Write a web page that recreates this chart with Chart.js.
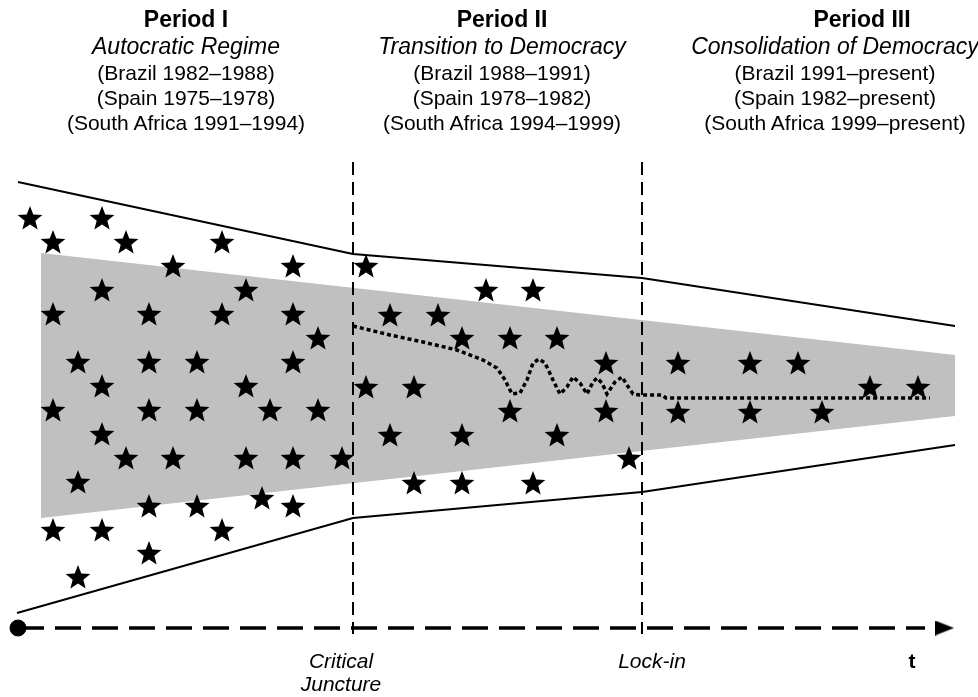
<!DOCTYPE html>
<html>
<head>
    <title>Critical Juncture and Lock-in</title>
    <script src="https://cdn.jsdelivr.net/npm/chart.js@4.4.1/dist/chart.umd.min.js"></script>
    <style>
        body {
            margin: 0;
            background: #ffffff;
            font-family: 'Liberation Sans', Arial, Helvetica, sans-serif;
        }
        .stage {
            position: relative;
            width: 978px;
            height: 697px;
        }
        canvas {
            position: absolute;
            left: 0;
            top: 0;
        }
        .period {
            position: absolute;
            top: 6px;
            width: 340px;
            text-align: center;
            color: #000;
        }
        .period .name {
            font-weight: bold;
            font-size: 23px;
            line-height: 27px;
        }
        .period .regime {
            font-style: italic;
            font-size: 23px;
            line-height: 27px;
        }
        .period .case {
            font-size: 21px;
            line-height: 25px;
        }
        .mark {
            position: absolute;
            top: 649px;
            width: 160px;
            text-align: center;
            font-style: italic;
            font-size: 21px;
            line-height: 23px;
        }
        .mark.t {
            font-style: normal;
            font-weight: bold;
        }
    </style>
</head>
<body>
    <div class="stage">
        <canvas id="chart" width="978" height="697"></canvas>

        <div class="period" style="left: 16px;">
            <div class="name">Period I</div>
            <div class="regime">Autocratic Regime</div>
            <div class="case">(Brazil 1982–1988)</div>
            <div class="case">(Spain 1975–1978)</div>
            <div class="case">(South Africa 1991–1994)</div>
        </div>
        <div class="period" style="left: 332px;">
            <div class="name">Period II</div>
            <div class="regime">Transition to Democracy</div>
            <div class="case">(Brazil 1988–1991)</div>
            <div class="case">(Spain 1978–1982)</div>
            <div class="case">(South Africa 1994–1999)</div>
        </div>
        <div class="period" style="left: 665px;">
            <div class="name" style="position: relative; left: 27px;">Period III</div>
            <div class="regime">Consolidation of Democracy</div>
            <div class="case">(Brazil 1991–present)</div>
            <div class="case">(Spain 1982–present)</div>
            <div class="case">(South Africa 1999–present)</div>
        </div>

        <div class="mark" style="left: 261px;">Critical<br>Juncture</div>
        <div class="mark" style="left: 572px;">Lock-in</div>
        <div class="mark t" style="left: 832px;">t</div>
    </div>

    <script>
        // stars (events / actors) in each period, in plot units
        const starsPeriod1 = [
            [3.0, 47.9], [10.2, 47.9], [5.3, 45.5], [12.6, 45.5], [22.2, 45.5],
            [17.3, 43.1], [29.3, 43.1], [10.2, 40.7], [24.6, 40.7],
            [5.3, 38.3], [14.9, 38.3], [22.2, 38.3], [29.3, 38.3], [31.8, 35.9],
            [7.8, 33.5], [14.9, 33.5], [19.7, 33.5], [29.3, 33.5],
            [10.2, 31.1], [24.6, 31.1],
            [5.3, 28.7], [14.9, 28.7], [19.7, 28.7], [27.0, 28.7], [31.8, 28.7],
            [10.2, 26.3], [12.6, 23.9], [17.3, 23.9], [24.6, 23.9], [29.3, 23.9], [34.2, 23.9],
            [7.8, 21.5], [14.9, 19.1], [19.7, 19.1], [26.2, 19.9], [29.3, 19.1],
            [5.3, 16.7], [10.2, 16.7], [22.2, 16.7], [14.9, 14.4], [7.8, 12.0]
        ];
        const starsPeriod2 = [
            [36.6, 43.1], [48.6, 40.7], [53.3, 40.7], [39.0, 38.2], [43.8, 38.2],
            [46.2, 35.9], [51.0, 35.9], [55.7, 35.9], [60.6, 33.4],
            [36.6, 31.0], [41.4, 31.0], [51.0, 28.6], [60.6, 28.6],
            [39.0, 26.2], [46.2, 26.2], [55.7, 26.2], [62.9, 23.9],
            [41.4, 21.4], [46.2, 21.4], [53.3, 21.4]
        ];
        const starsPeriod3 = [
            [67.8, 33.4], [75.0, 33.4], [79.8, 33.4], [87.0, 31.0], [91.8, 31.0],
            [67.8, 28.5], [75.0, 28.5], [82.2, 28.5]
        ];

        // outer bounds of the option space
        const upperBound = [[1.8, 51.5], [35.3, 44.3], [64.2, 41.9], [95.5, 37.1]];
        const lowerBound = [[1.7, 8.4], [35.3, 17.9], [64.2, 20.5], [95.5, 25.2]];

        // grey band of likely outcomes
        const bandTop = [[4.1, 44.4], [95.5, 34.2]];
        const bandBottom = [[4.1, 17.9], [95.5, 28.1]];

        // path of the regime after the critical juncture
        const path = [
            [35.3, 37.1], [39.0, 36.2], [42.3, 35.5], [45.7, 34.7], [48.3, 33.7],
            [49.7, 32.9], [50.5, 31.7], [51.2, 30.3], [52.0, 30.4], [52.7, 31.7],
            [53.3, 33.4], [53.9, 33.8], [54.5, 33.4], [55.3, 31.7], [56.0, 30.3],
            [56.7, 31.0], [57.3, 32.0], [58.0, 31.4], [58.7, 30.3], [59.3, 31.5],
            [59.7, 31.9], [60.2, 31.4], [60.7, 30.3], [61.5, 31.5], [62.2, 32.0],
            [62.7, 31.2], [63.3, 30.3], [64.0, 30.2], [66.2, 30.2], [66.6, 29.9],
            [93.0, 29.9]
        ];

        // time axis and the two turning points
        const criticalJuncture = 35.3;
        const lockIn = 64.2;
        const markerTop = 53.5;
        const markerBottom = 6.3;
        const timeAxisY = 6.9;
        const timeStart = 1.8;
        const timeEnd = 92.5;
        const arrowAt = 94.45;

        const toPoints = arr => arr.map(p => ({ x: p[0], y: p[1] }));

        // filled five-point star used as point style
        const makeStar = () => {
            const c = document.createElement('canvas');
            c.width = 30;
            c.height = 30;
            const g = c.getContext('2d');
            const R = 13, r = 5.6, cx = 15, cy = 16;
            g.beginPath();
            for (let i = 0; i < 10; i++) {
                const rad = i % 2 === 0 ? R : r;
                const a = -Math.PI / 2 + i * Math.PI / 5;
                const px = cx + Math.cos(a) * rad;
                const py = cy + Math.sin(a) * rad;
                if (i === 0) g.moveTo(px, py); else g.lineTo(px, py);
            }
            g.closePath();
            g.fillStyle = '#000';
            g.fill();
            return c;
        };

        const makeArrow = () => {
            const c = document.createElement('canvas');
            c.width = 19;
            c.height = 15;
            const g = c.getContext('2d');
            g.beginPath();
            g.moveTo(0, 0);
            g.lineTo(19, 7.5);
            g.lineTo(0, 15);
            g.closePath();
            g.fillStyle = '#000';
            g.fill();
            return c;
        };

        const star = makeStar();
        const arrow = makeArrow();

        const starSet = (label, arr) => ({
            label: label,
            data: toPoints(arr),
            pointStyle: star,
            pointRadius: 13,
            showLine: false,
            order: 0,
            clip: false
        });

        const lineSet = (label, arr, extra) => Object.assign({
            label: label,
            data: toPoints(arr),
            showLine: true,
            borderColor: '#000',
            borderWidth: 2,
            pointRadius: 0,
            tension: 0,
            fill: false,
            order: 2,
            clip: false
        }, extra || {});

        new Chart(document.getElementById('chart'), {
            type: 'scatter',
            data: {
                datasets: [
                    starSet('Period I', starsPeriod1),
                    starSet('Period II', starsPeriod2),
                    starSet('Period III', starsPeriod3),
                    lineSet('Path', path, { borderWidth: 3.5, borderDash: [4, 3], borderCapStyle: 'butt', order: 1 }),
                    lineSet('Upper bound', upperBound),
                    lineSet('Lower bound', lowerBound),
                    lineSet('Critical juncture', [[criticalJuncture, markerTop], [criticalJuncture, markerBottom]], { borderDash: [13, 7] }),
                    lineSet('Lock-in', [[lockIn, markerTop], [lockIn, markerBottom]], { borderDash: [13, 7] }),
                    lineSet('Time', [[timeStart, timeAxisY], [timeEnd, timeAxisY]], { borderWidth: 3.5, borderDash: [26, 11] }),
                    {
                        label: 'Origin',
                        data: toPoints([[timeStart, timeAxisY]]),
                        pointStyle: 'circle',
                        pointRadius: 8,
                        backgroundColor: '#000',
                        borderColor: '#000',
                        order: 1,
                        clip: false
                    },
                    {
                        label: 'Arrow',
                        data: toPoints([[arrowAt, timeAxisY]]),
                        pointStyle: arrow,
                        pointRadius: 10,
                        order: 1,
                        clip: false
                    },
                    lineSet('Band top', bandTop, { borderWidth: 0, fill: '+1', backgroundColor: '#c0c0c0', order: 5 }),
                    lineSet('Band bottom', bandBottom, { borderWidth: 0, order: 5 })
                ]
            },
            options: {
                responsive: false,
                animation: false,
                events: [],
                layout: { padding: 0, autoPadding: false },
                plugins: {
                    legend: { display: false },
                    tooltip: { enabled: false }
                },
                scales: {
                    x: { type: 'linear', min: 0, max: 97.8, display: false },
                    y: { type: 'linear', min: 0, max: 69.7, display: false }
                }
            }
        });
    </script>
</body>
</html>
